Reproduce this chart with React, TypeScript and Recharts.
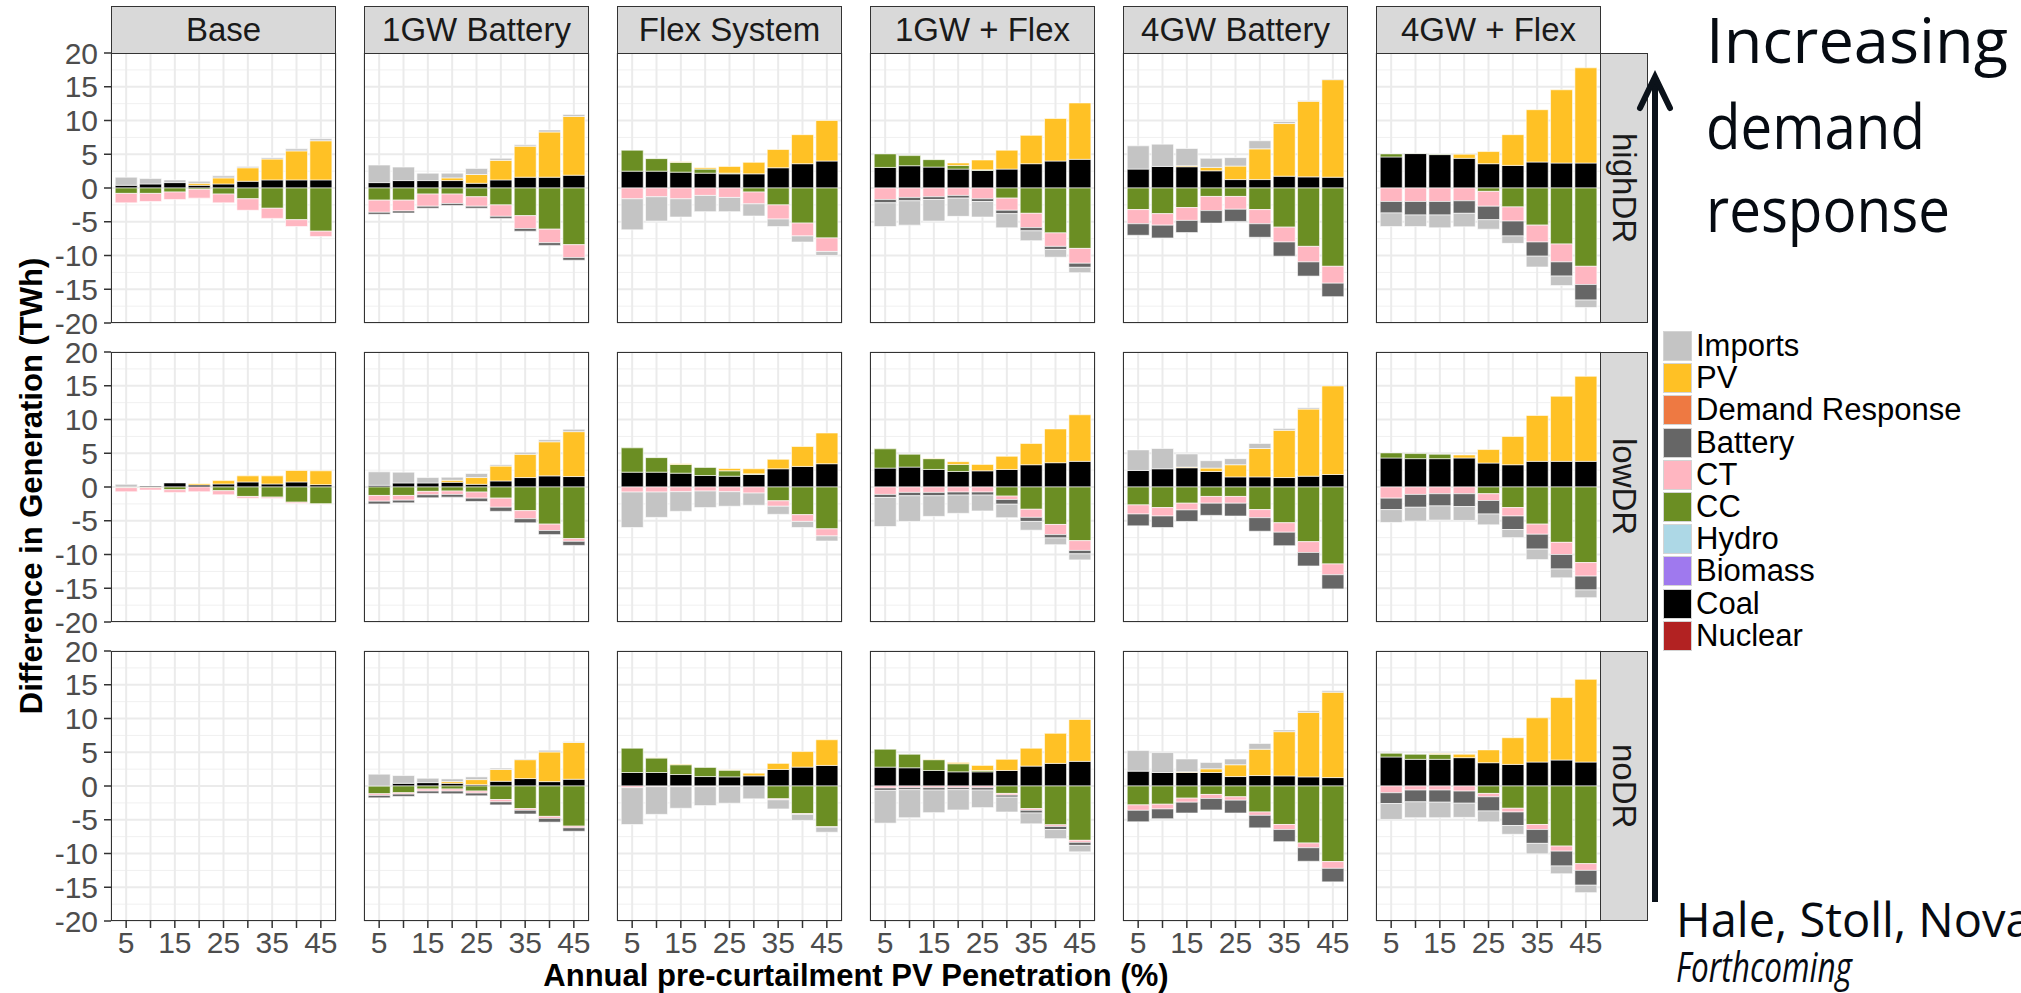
import React from 'react';
import { BarChart, Bar, XAxis, YAxis, CartesianGrid } from 'recharts';

// x categories: annual pre-curtailment PV penetration (%)
const penetration = [5, 10, 15, 20, 25, 30, 35, 40, 45];
const labeledPenetration = [5, 15, 25, 35, 45];
const yTicks = [-20, -15, -10, -5, 0, 5, 10, 15, 20];
const yMinorTicks = [-17.5, -12.5, -7.5, -2.5, 2.5, 7.5, 12.5, 17.5];

const scenarios = ['Base', '1GW Battery', 'Flex System', '1GW + Flex', '4GW Battery', '4GW + Flex'];
const drLevels = ['highDR', 'lowDR', 'noDR'];
const legendFuels = ['Imports', 'PV', 'Demand Response', 'Battery', 'CT', 'CC', 'Hydro', 'Biomass', 'Coal', 'Nuclear'];

// difference in generation (TWh) per fuel, one panel per DR level x scenario
const highBase = {
  imports: [1.2, 0.8, 0.4, 0.3, 0.3, 0.2, 0.2, 0.3, 0.3],
  pv: [0, 0, 0, 0.3, 0.9, 2.0, 3.1, 4.3, 5.8],
  battery: [0, 0, 0, 0, 0, 0, 0, 0, 0],
  ct: [-1.4, -1.2, -1.1, -1.3, -1.3, -1.7, -1.5, -1.0, -0.8],
  cc: [-0.8, -0.8, -0.6, -0.2, -0.9, -1.6, -3.0, -4.7, -6.4],
  coal: [0.4, 0.6, 0.8, 0.4, 0.6, 1.0, 1.2, 1.2, 1.2],
};
const high1GW = {
  imports: [2.6, 2.0, 1.1, 0.7, 0.9, 0.3, 0.2, 0.3, 0.3],
  pv: [0, 0, 0, 0.4, 1.3, 2.9, 4.6, 6.7, 8.7],
  battery: [-0.3, -0.3, -0.3, -0.3, -0.3, -0.3, -0.4, -0.4, -0.4],
  ct: [-1.8, -1.6, -1.8, -1.4, -1.4, -1.7, -1.9, -2.0, -1.9],
  cc: [-1.8, -1.8, -0.9, -0.9, -1.3, -2.5, -4.1, -6.1, -8.4],
  coal: [0.8, 1.1, 1.1, 1.1, 0.7, 1.2, 1.6, 1.6, 1.9],
};
const highFlex = {
  imports: [-4.6, -3.6, -2.7, -2.4, -2.1, -1.8, -1.1, -0.9, -0.6],
  pv: [0, 0, 0.1, 0.2, 1.0, 1.7, 2.7, 4.3, 6.0],
  battery: [0, 0, 0, 0, 0, 0, 0, 0, 0],
  ct: [-1.6, -1.3, -1.6, -1.1, -1.4, -1.75, -2.1, -1.9, -2.0],
  cc: [3.1, 1.85, 1.45, 0.6, 0.1, -0.6, -2.5, -5.2, -7.4],
  coal: [2.5, 2.5, 2.35, 2.2, 2.1, 2.1, 3.0, 3.6, 4.0],
};
const high1GWFlex = {
  imports: [-3.5, -3.6, -3.2, -2.7, -2.3, -2.1, -1.45, -1.15, -0.8],
  pv: [0, 0, 0, 0.35, 1.45, 2.8, 4.2, 6.3, 8.35],
  battery: [-0.5, -0.5, -0.4, -0.4, -0.4, -0.5, -0.5, -0.45, -0.6],
  ct: [-1.7, -1.4, -1.3, -1.1, -1.6, -1.8, -2.1, -2.0, -2.2],
  cc: [2.0, 1.5, 1.1, 0.55, 0.1, -1.5, -3.75, -6.65, -8.95],
  coal: [3.05, 3.3, 3.1, 2.8, 2.6, 2.8, 3.6, 4.0, 4.25],
};
const high4GW = {
  imports: [3.45, 3.3, 2.55, 1.35, 1.25, 1.2, 0.3, 0.1, 0.1],
  pv: [0, 0, 0.15, 0.5, 2.0, 4.55, 7.8, 11.2, 14.45],
  battery: [-1.7, -1.9, -1.8, -1.85, -1.8, -2.0, -2.1, -2.1, -2.0],
  ct: [-2.1, -1.7, -1.9, -2.1, -1.9, -2.1, -2.2, -2.3, -2.5],
  cc: [-3.2, -3.8, -2.9, -1.25, -1.25, -3.2, -5.8, -8.65, -11.6],
  coal: [2.8, 3.2, 3.15, 2.55, 1.25, 1.25, 1.75, 1.65, 1.6],
};
const high4GWFlex = {
  imports: [-2.0, -1.7, -1.9, -2.0, -1.4, -1.1, -1.6, -1.4, -1.1],
  pv: [0, 0, 0, 0.6, 1.8, 4.55, 7.75, 10.85, 14.1],
  battery: [-1.7, -2.0, -2.0, -1.85, -2.0, -2.2, -2.1, -2.1, -2.3],
  ct: [-2.0, -2.0, -2.0, -1.9, -2.2, -2.1, -2.5, -2.65, -2.7],
  cc: [0.45, 0.05, 0.1, 0, -0.5, -2.8, -5.5, -8.3, -11.6],
  coal: [4.6, 5.1, 4.95, 4.4, 3.6, 3.35, 3.85, 3.7, 3.7],
};

const lowBase = {
  imports: [0.4, 0, 0, 0, 0, 0, 0, 0, 0],
  pv: [0, 0, 0, 0.2, 0.5, 0.9, 1.2, 1.7, 2.05],
  battery: [0, 0, 0, 0, 0, 0, 0, 0, 0],
  ct: [-0.6, -0.35, -0.4, -0.7, -0.6, -0.25, -0.2, -0.2, -0.05],
  cc: [-0.1, -0.1, -0.4, 0, -0.55, -1.4, -1.5, -2.25, -2.5],
  coal: [0, 0.15, 0.6, 0.3, 0.45, 0.75, 0.45, 0.75, 0.35],
};
const low1GW = {
  imports: [2.0, 1.6, 0.8, 0.45, 0.6, 0.2, 0.3, 0.3, 0.35],
  pv: [0, 0, 0, 0.3, 1.0, 2.2, 3.45, 5.05, 6.65],
  battery: [-0.4, -0.4, -0.45, -0.4, -0.5, -0.6, -0.6, -0.6, -0.6],
  ct: [-0.85, -0.7, -0.5, -0.5, -0.9, -1.35, -1.2, -0.95, -0.4],
  cc: [-1.25, -1.25, -0.65, -0.6, -0.75, -1.65, -3.5, -5.5, -7.65],
  coal: [0.25, 0.6, 0.6, 0.7, 0.4, 0.9, 1.4, 1.65, 1.55],
};
const lowFlex = {
  imports: [-5.25, -3.75, -2.9, -2.45, -2.15, -1.8, -1.2, -0.9, -0.75],
  pv: [0, 0, 0.1, 0, 0.35, 0.75, 1.4, 2.95, 4.55],
  battery: [0, 0, 0, 0, 0, 0, 0, 0, 0],
  ct: [-0.75, -0.75, -0.7, -0.6, -0.7, -0.9, -0.8, -1.0, -1.05],
  cc: [3.6, 2.15, 1.3, 1.2, 0.8, 0.1, -2.05, -4.1, -6.2],
  coal: [2.2, 2.2, 2.05, 1.7, 1.6, 1.85, 2.7, 3.05, 3.45],
};
const low1GWFlex = {
  imports: [-4.3, -3.8, -3.05, -2.7, -2.35, -2.0, -1.3, -1.0, -0.9],
  pv: [0, 0, 0.05, 0.4, 0.95, 1.95, 3.15, 5.0, 6.9],
  battery: [-0.45, -0.5, -0.5, -0.45, -0.45, -0.7, -0.6, -0.5, -0.5],
  ct: [-1.1, -0.8, -0.8, -0.75, -0.75, -0.5, -1.2, -1.5, -1.45],
  cc: [2.85, 1.9, 1.6, 1.05, 0, -1.35, -3.3, -5.55, -7.95],
  coal: [2.8, 2.95, 2.6, 2.3, 2.4, 2.6, 3.3, 3.6, 3.8],
};
const low4GW = {
  imports: [3.05, 3.0, 1.95, 1.1, 0.9, 0.75, 0.25, 0.2, 0.1],
  pv: [0, 0, 0.1, 0.5, 1.8, 4.2, 7.0, 9.95, 13.15],
  battery: [-1.75, -1.7, -1.7, -1.8, -1.9, -2.0, -2.0, -2.0, -2.1],
  ct: [-1.35, -1.25, -1.0, -1.0, -1.0, -1.2, -1.4, -1.6, -1.6],
  cc: [-2.65, -3.05, -2.4, -1.4, -1.4, -3.35, -5.3, -8.1, -11.4],
  coal: [2.45, 2.7, 2.85, 2.3, 1.5, 1.5, 1.4, 1.6, 1.85],
};
const low4GWFlex = {
  imports: [-1.9, -2.05, -2.1, -2.05, -1.6, -1.2, -1.55, -1.3, -1.15],
  pv: [0, 0, 0, 0.45, 2.0, 4.2, 6.8, 9.65, 12.6],
  battery: [-1.7, -1.9, -1.8, -1.9, -2.0, -2.0, -2.2, -2.15, -2.05],
  ct: [-1.65, -1.1, -1.0, -1.0, -1.0, -1.25, -1.5, -1.8, -2.0],
  cc: [0.75, 0.75, 0.65, 0, -1.0, -3.05, -5.5, -8.2, -11.2],
  coal: [4.3, 4.2, 4.2, 4.3, 3.55, 3.3, 3.8, 3.8, 3.8],
};

const noBase = {
  imports: [0, 0, 0, 0, 0, 0, 0, 0, 0],
  pv: [0, 0, 0, 0, 0, 0, 0, 0, 0],
  battery: [0, 0, 0, 0, 0, 0, 0, 0, 0],
  ct: [0, 0, 0, 0, 0, 0, 0, 0, 0],
  cc: [0, 0, 0, 0, 0, 0, 0, 0, 0],
  coal: [0, 0, 0, 0, 0, 0, 0, 0, 0],
};
const no1GW = {
  imports: [1.75, 1.15, 0.65, 0.4, 0.4, 0.2, 0.1, 0.25, 0.1],
  pv: [0, 0, 0, 0.25, 0.75, 1.75, 2.8, 4.4, 5.45],
  battery: [-0.35, -0.35, -0.35, -0.4, -0.4, -0.45, -0.55, -0.55, -0.5],
  ct: [-0.25, -0.2, -0.3, -0.3, -0.3, -0.35, -0.25, -0.3, -0.25],
  cc: [-1.15, -1.0, -0.45, -0.45, -0.75, -2.0, -3.35, -4.5, -5.95],
  coal: [0, 0.4, 0.5, 0.4, 0.2, 0.7, 1.1, 0.65, 1.0],
};
const noFlex = {
  imports: [-5.45, -4.1, -3.2, -2.8, -2.5, -1.9, -1.35, -0.9, -0.75],
  pv: [0, 0.05, 0.1, 0, 0.05, 0.4, 0.9, 2.3, 3.8],
  battery: [0, 0, 0, 0, 0, 0, 0, 0, 0],
  ct: [-0.25, -0.1, -0.1, -0.1, -0.05, 0, -0.15, -0.1, -0.05],
  cc: [3.6, 2.15, 1.45, 1.35, 1.0, 0, -1.9, -4.1, -6.05],
  coal: [2.0, 2.0, 1.7, 1.4, 1.35, 1.5, 2.45, 2.8, 3.05],
};
const no1GWFlex = {
  imports: [-4.85, -4.15, -3.35, -3.0, -2.6, -2.2, -1.6, -1.35, -0.95],
  pv: [0, 0, 0.05, 0.2, 0.75, 1.65, 2.65, 4.45, 6.2],
  battery: [-0.35, -0.3, -0.35, -0.3, -0.35, -0.3, -0.4, -0.45, -0.45],
  ct: [-0.3, -0.25, -0.25, -0.25, -0.25, -0.25, -0.25, -0.25, -0.3],
  cc: [2.65, 2.0, 1.6, 1.2, 0.2, -1.1, -3.35, -5.75, -8.05],
  coal: [2.8, 2.7, 2.3, 2.1, 2.1, 2.3, 2.95, 3.35, 3.65],
};
const no4GW = {
  imports: [3.05, 2.95, 1.9, 0.95, 0.85, 0.85, 0.25, 0.25, 0.2],
  pv: [0, 0, 0.1, 0.55, 1.75, 3.9, 6.55, 9.55, 12.65],
  battery: [-1.7, -1.45, -1.6, -1.7, -1.9, -1.85, -1.8, -2.0, -2.0],
  ct: [-0.8, -0.7, -0.6, -0.6, -0.5, -0.5, -0.75, -0.7, -1.0],
  cc: [-2.8, -2.7, -1.8, -1.25, -1.6, -3.85, -5.7, -8.45, -11.2],
  coal: [2.2, 2.0, 2.0, 2.0, 1.4, 1.55, 1.5, 1.35, 1.25],
};
const no4GWFlex = {
  imports: [-2.35, -2.35, -2.3, -2.1, -1.6, -1.3, -1.55, -1.15, -1.1],
  pv: [0, 0, 0.1, 0.5, 1.9, 3.95, 6.55, 9.25, 12.25],
  battery: [-1.6, -1.75, -1.8, -1.8, -2.1, -2.0, -2.05, -2.2, -2.2],
  ct: [-1.0, -0.6, -0.6, -0.75, -0.5, -0.55, -0.75, -0.75, -1.0],
  cc: [0.55, 0.75, 0.75, 0, -1.1, -3.3, -5.7, -8.9, -11.5],
  coal: [4.3, 3.95, 3.95, 4.2, 3.45, 3.2, 3.55, 3.85, 3.55],
};

type PanelData = typeof highBase;

const panels: PanelData[][] = [
  [highBase, high1GW, highFlex, high1GWFlex, high4GW, high4GWFlex],
  [lowBase, low1GW, lowFlex, low1GWFlex, low4GW, low4GWFlex],
  [noBase, no1GW, noFlex, no1GWFlex, no4GW, no4GWFlex],
];

const fuelColors: Record<string, string> = {
  Imports: '#C4C4C4',
  PV: '#FFC125',
  'Demand Response': '#EE7942',
  Battery: '#666666',
  CT: '#FFB6C1',
  CC: '#6B8E23',
  Hydro: '#ADD8E6',
  Biomass: '#9F79EE',
  Coal: '#000000',
  Nuclear: '#B22222',
};

// first entry sits next to zero, last one is stacked furthest out
const stackOrder: [keyof PanelData, string][] = [
  ['coal', 'Coal'],
  ['cc', 'CC'],
  ['ct', 'CT'],
  ['battery', 'Battery'],
  ['pv', 'PV'],
  ['imports', 'Imports'],
];

// layout
const PANEL_W = 225;
const PANEL_H = 270;
const AXIS_W = 111;
const PAD = 18;
const SIDE_PAD = 14;
const X_AXIS_H = 60;
const panelLeft = [111, 364, 617, 870, 1123, 1376];
const rowTop = [53, 352, 651];
const BORDER = '1.5px solid #333333';
const ARROW_X = 1655;
const STRIP_FONT = 33;

const toRows = (p: PanelData) =>
  penetration.map((pen, i) => ({
    pen,
    imports: p.imports[i],
    pv: p.pv[i],
    battery: p.battery[i],
    ct: p.ct[i],
    cc: p.cc[i],
    coal: p.coal[i],
  }));

const tickStyle = { fontSize: 30, fill: '#4D4D4D' };

function Panel({ row, col }: { row: number; col: number }) {
  const first = col === 0;
  const bottom = row === drLevels.length - 1;
  // room on both sides so the outer tick labels are not clipped
  const leftPad = first ? 0 : SIDE_PAD;
  const left = first ? panelLeft[0] - AXIS_W : panelLeft[col] - leftPad;
  const width = (first ? AXIS_W : leftPad) + PANEL_W + SIDE_PAD;
  const height = PANEL_H + PAD + (bottom ? X_AXIS_H : PAD);
  return (
    <div style={{ position: 'absolute', left, top: rowTop[row] - PAD }}>
      <BarChart
        width={width}
        height={height}
        data={toRows(panels[row][col])}
        margin={{ top: PAD, right: SIDE_PAD, bottom: bottom ? 0 : PAD, left: leftPad }}
        stackOffset="sign"
        barCategoryGap="5%"
      >
        <CartesianGrid vertical={false} horizontalValues={yMinorTicks} stroke="#F0F0F0" strokeWidth={1} />
        <CartesianGrid horizontalValues={yTicks} stroke="#EBEBEB" strokeWidth={2} />
        <XAxis
          dataKey="pen"
          hide={!bottom}
          height={X_AXIS_H}
          padding={{ left: 3, right: 3 }}
          interval={0}
          tickSize={7}
          tickMargin={4}
          axisLine={false}
          tickLine={{ stroke: '#333333', strokeWidth: 1.5 }}
          tick={tickStyle}
          tickFormatter={(v: number) => (labeledPenetration.includes(v) ? String(v) : '')}
        />
        <YAxis
          type="number"
          domain={[-20, 20]}
          ticks={yTicks}
          allowDataOverflow
          hide={!first}
          width={AXIS_W}
          interval={0}
          tickSize={7}
          tickMargin={6}
          axisLine={false}
          tickLine={{ stroke: '#333333', strokeWidth: 1.5 }}
          tick={tickStyle}
        />
        {stackOrder.map(([key, name]) => (
          <Bar
            key={key}
            dataKey={key}
            name={name}
            stackId="gen"
            fill={fuelColors[name]}
            stroke="#FFFFFF"
            strokeWidth={0.6}
            isAnimationActive={false}
          />
        ))}
      </BarChart>
    </div>
  );
}

export default function App() {
  return (
    <div
      style={{
        position: 'absolute',
        left: 0,
        top: 0,
        width: 2021,
        height: 993,
        overflow: 'hidden',
        background: '#FFFFFF',
        fontFamily: '"Liberation Sans", Arial, sans-serif',
      }}
    >
      {drLevels.map((_, r) => scenarios.map((__, c) => <Panel key={`${r}-${c}`} row={r} col={c} />))}

      {/* panel borders */}
      {drLevels.map((_, r) =>
        scenarios.map((__, c) => (
          <div
            key={`b-${r}-${c}`}
            style={{
              position: 'absolute',
              left: panelLeft[c],
              top: rowTop[r],
              width: PANEL_W,
              height: PANEL_H,
              border: BORDER,
              boxSizing: 'border-box',
              pointerEvents: 'none',
            }}
          />
        ))
      )}

      {/* column strips */}
      {scenarios.map((s, c) => (
        <div
          key={s}
          style={{
            position: 'absolute',
            left: panelLeft[c],
            top: 6,
            width: PANEL_W,
            height: rowTop[0] - 6 + 1,
            border: BORDER,
            boxSizing: 'border-box',
            background: '#D9D9D9',
            color: '#1A1A1A',
            fontSize: STRIP_FONT,
            whiteSpace: 'nowrap',
            display: 'flex',
            alignItems: 'center',
            justifyContent: 'center',
          }}
        >
          {s}
        </div>
      ))}

      {/* row strips */}
      {drLevels.map((d, r) => (
        <div
          key={d}
          style={{
            position: 'absolute',
            left: panelLeft[5] + PANEL_W - 1,
            top: rowTop[r],
            width: 48,
            height: PANEL_H,
            border: BORDER,
            boxSizing: 'border-box',
            background: '#D9D9D9',
            color: '#1A1A1A',
            fontSize: STRIP_FONT,
            display: 'flex',
            alignItems: 'center',
            justifyContent: 'center',
          }}
        >
          <span style={{ writingMode: 'vertical-rl' }}>{d}</span>
        </div>
      ))}

      {/* fuel legend */}
      {legendFuels.map((f, i) => (
        <div
          key={f}
          style={{ position: 'absolute', left: 1664, top: 331 + i * 32.2, height: 30, display: 'flex', alignItems: 'center' }}
        >
          <div
            style={{
              width: 27,
              height: 28,
              background: fuelColors[f],
              outline: '1.5px solid #D4D4D4',
              marginRight: 5,
            }}
          />
          <span style={{ fontSize: 31, lineHeight: '30px', color: '#000000', whiteSpace: 'nowrap' }}>{f}</span>
        </div>
      ))}

      <svg width={2021} height={993} style={{ position: 'absolute', left: 0, top: 0, pointerEvents: 'none' }}>
        <text x={856} y={986} textAnchor="middle" fontSize={31} fontWeight="bold" fill="#000000">
          Annual pre-curtailment PV Penetration (%)
        </text>
        <text
          transform="translate(42, 486) rotate(-90)"
          textAnchor="middle"
          fontSize={31}
          fontWeight="bold"
          fill="#000000"
        >
          Difference in Generation (TWh)
        </text>

        <line x1={ARROW_X} y1={80} x2={ARROW_X} y2={902} stroke="#0B121A" strokeWidth={6} />
        <polyline
          points={`${ARROW_X - 15},108 ${ARROW_X},77 ${ARROW_X + 15},108`}
          fill="none"
          stroke="#0B121A"
          strokeWidth={6}
          strokeLinecap="round"
        />

        <g fontFamily='"Open Sans", "Noto Sans", sans-serif' fill="#060B12">
          <text x={1706} y={63} fontSize={63} textLength={302} lengthAdjust="spacingAndGlyphs">Increasing</text>
          <text x={1706} y={149} fontSize={63} textLength={219} lengthAdjust="spacingAndGlyphs">demand</text>
          <text x={1706} y={232} fontSize={63} textLength={244} lengthAdjust="spacingAndGlyphs">response</text>
          <text x={1676} y={937} fontSize={47}>Hale, Stoll, Novacheck</text>
          <text x={1676} y={982} fontSize={42} fontStyle="italic" textLength={176} lengthAdjust="spacingAndGlyphs">
            Forthcoming
          </text>
        </g>
      </svg>
    </div>
  );
}
